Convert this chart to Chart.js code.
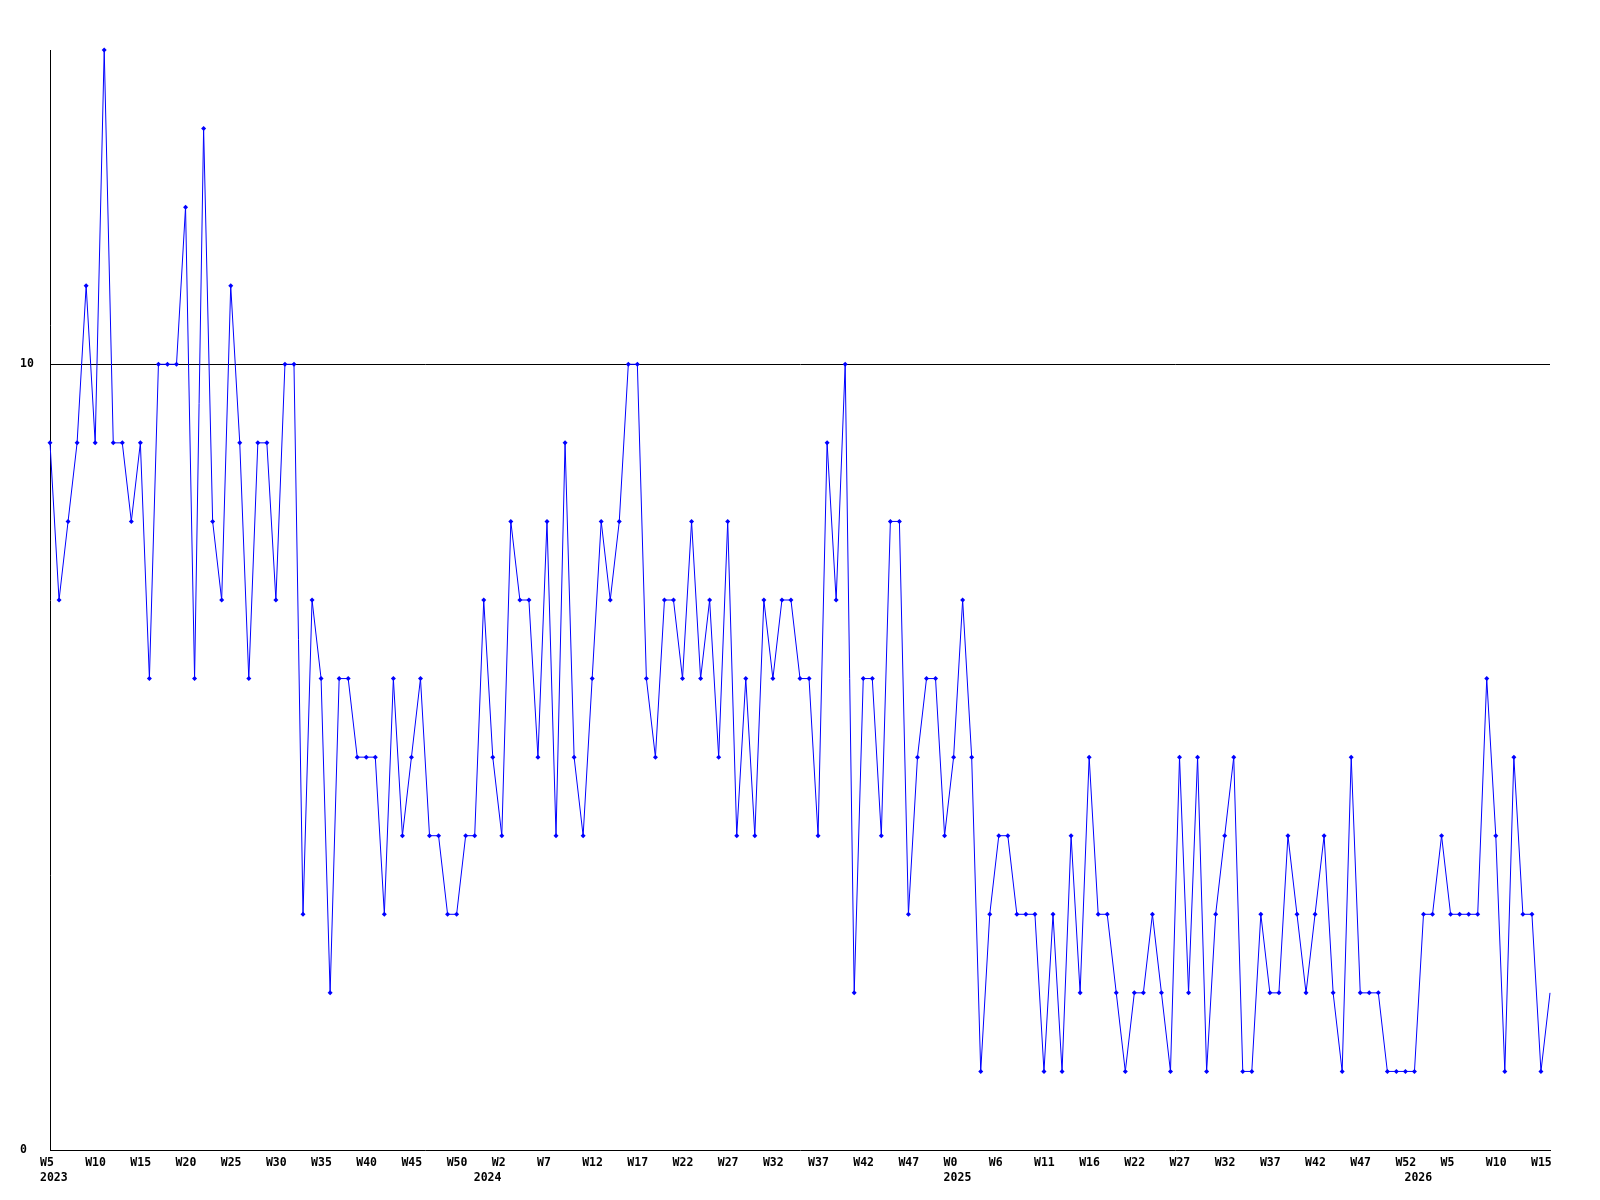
<!DOCTYPE html>
<html>
<head>
<meta charset="utf-8">
<script src="https://cdn.jsdelivr.net/npm/chart.js@4/dist/chart.umd.min.js"></script>
<style>
  html, body { margin: 0; padding: 0; background: #ffffff; }
  #wrap { width: 1600px; height: 1200px; }
</style>
</head>
<body>
<div id="wrap"><canvas id="c" width="1600" height="1200"></canvas></div>
<script>
// Weekly counts, one value per week (first week: W5 2023)
const values = [
  9,7,8,9,11,9,14,9,9,8,
  9,6,10,10,10,12,6,13,8,7,
  11,9,6,9,9,7,10,10,3,7,
  6,2,6,6,5,5,5,3,6,4,
  5,6,4,4,3,3,4,4,7,5,
  4,8,7,7,5,8,4,9,5,4,
  6,8,7,8,10,10,6,5,7,7,
  6,8,6,7,5,8,4,6,4,7,
  6,7,7,6,6,4,9,7,10,2,
  6,6,4,8,8,3,5,6,6,4,
  5,7,5,1,3,4,4,3,3,3,
  1,3,1,4,2,5,3,3,2,1,
  2,2,3,2,1,5,2,5,1,3,
  4,5,1,1,3,2,2,4,3,2,
  3,4,2,1,5,2,2,2,1,1,
  1,1,3,3,4,3,3,3,3,6,
  4,1,5,3,3,1,2
];
// Week tick labels, shown on every 5th week
const tickLabels = ['W5','W10','W15','W20','W25','W30','W35','W40','W45','W50',
  'W2','W7','W12','W17','W22','W27','W32','W37','W42','W47',
  'W0','W6','W11','W16','W22','W27','W32','W37','W42','W47','W52',
  'W5','W10','W15'];
const tickStep = 5;
// Year labels and the week index where each is shown
const yearLabels = ['2023','2024','2025','2026'];
const yearIndex = [0, 48, 100, 151];
// Y axis tick values
const yTicks = [0, 10];
const yMax = 14;

const categories = values.map((_, i) => String(i));

const font = { family: '"DejaVu Sans Mono", monospace', size: 11.5, weight: 'bold', lineHeight: 1.32 };

new Chart(document.getElementById('c'), {
  type: 'line',
  data: {
    labels: categories,
    datasets: [{
      data: values,
      borderColor: '#0000ff',
      backgroundColor: '#0000ff',
      borderWidth: 1,
      tension: 0,
      fill: false,
      clip: false,
      pointStyle: 'rectRot',
      pointRadius: (ctx) => ctx.dataIndex === values.length - 1 ? 0 : 2.5,
      pointBorderWidth: 0,
      pointBackgroundColor: '#0000ff'
    }]
  },
  options: {
    responsive: false,
    animation: false,
    events: [],
    layout: { padding: { left: 20, right: 50, top: 50, bottom: 0 } },
    plugins: { legend: { display: false }, tooltip: { enabled: false } },
    scales: {
      x: {
        type: 'category',
        offset: false,
        grid: { display: false, drawTicks: false },
        border: { display: true, color: '#000000', width: 1 },
        afterFit: (s) => { s.height = 50; },
        ticks: {
          autoSkip: false,
          maxRotation: 0,
          minRotation: 0,
          align: 'start',
          labelOffset: -10,
          padding: 5,
          color: '#000000',
          font: font,
          callback: function (val, i) {
            const w = (i % tickStep === 0) ? (tickLabels[i / tickStep] || '') : '';
            const yi = yearIndex.indexOf(i);
            if (yi >= 0) return [w, yearLabels[yi]];
            return w;
          }
        }
      },
      y: {
        min: 0,
        max: yMax,
        afterFit: (s) => { s.width = 30; },
        afterBuildTicks: (s) => { s.ticks = yTicks.map(v => ({ value: v })); },
        grid: {
          drawTicks: false,
          color: (ctx) => (ctx.tick && ctx.tick.value === 10) ? '#000000' : 'rgba(0,0,0,0)',
          lineWidth: 1
        },
        border: { display: true, color: '#000000', width: 1 },
        ticks: {
          crossAlign: 'far',
          padding: 0,
          color: '#000000',
          font: font,
          callback: (v) => String(v)
        }
      }
    }
  }
});
</script>
</body>
</html>
